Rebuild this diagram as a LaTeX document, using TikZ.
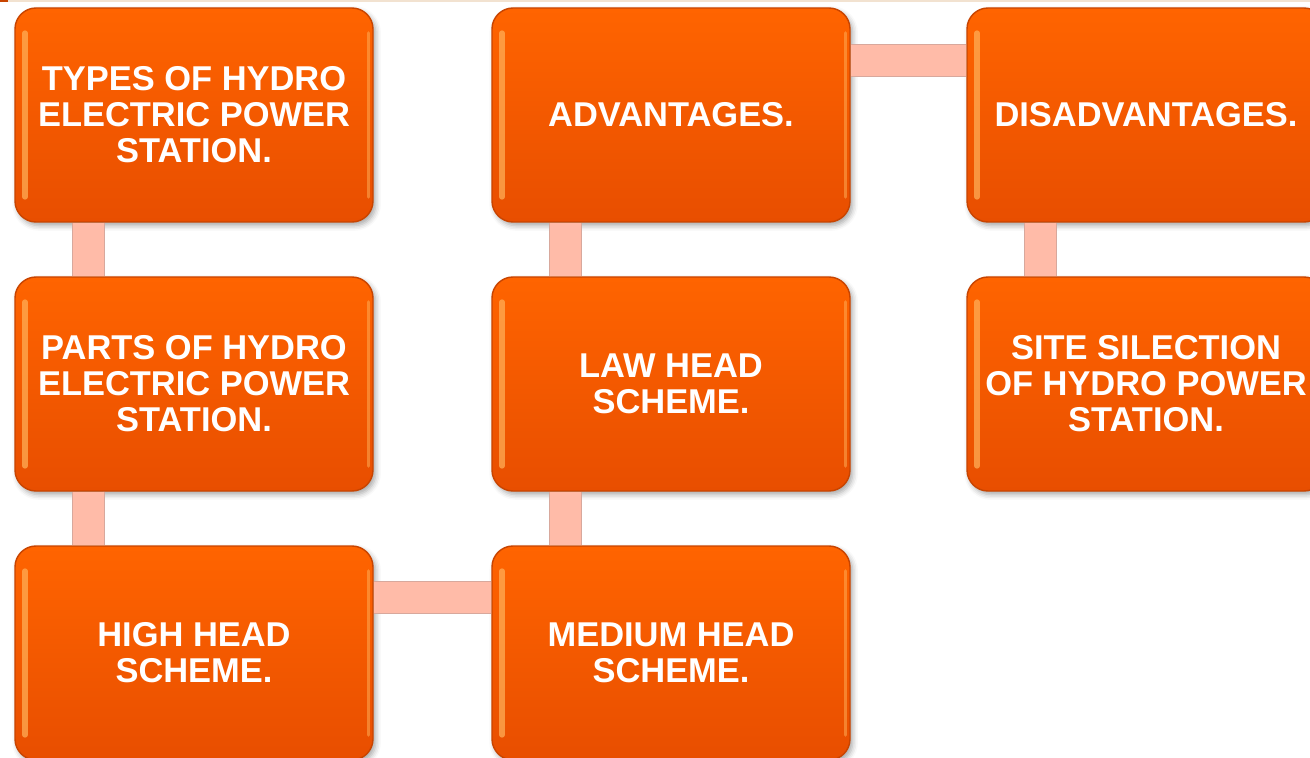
\documentclass[tikz,border=0pt]{standalone}
\usepackage{fontspec}
\setmainfont{Liberation Sans}
\usepackage{tikz}
\usetikzlibrary{shadows.blur}
\definecolor{BoxTop}{HTML}{FF6400}
\definecolor{BoxBottom}{HTML}{E84E00}
\definecolor{BoxEdge}{HTML}{C84400}
\definecolor{BoxGlow}{HTML}{FFB35C}
\definecolor{LinkPink}{HTML}{FFBBA8}
\definecolor{LinkEdge}{HTML}{D8A89C}
\definecolor{TopRule}{HTML}{F2E2D0}

\tikzset{
  topicbox/.style={
    draw=BoxEdge,
    line width=0.8pt,
    top color=BoxTop,
    bottom color=BoxBottom,
    rounded corners=0.42cm,
    minimum width=7.16cm,
    minimum height=4.28cm,
    align=center,
    text=white,
    font=\fontsize{19.6}{20.5}\selectfont\bfseries,
    blur shadow={shadow xshift=1.5pt, shadow yshift=-2pt,
                 shadow blur radius=3pt, shadow opacity=35},
    path picture={
      \draw[BoxGlow, line width=3pt, line cap=round, opacity=0.7]
        ([xshift=0.2cm,yshift=-0.5cm]path picture bounding box.north west)
        -- ([xshift=0.2cm,yshift=0.5cm]path picture bounding box.south west);
      \draw[BoxGlow, line width=2pt, line cap=round, opacity=0.5]
        ([xshift=-0.09cm,yshift=-0.5cm]path picture bounding box.north east)
        -- ([xshift=-0.09cm,yshift=0.5cm]path picture bounding box.south east);
    }
  },
  link/.style={
    draw=LinkEdge,
    line width=0.02cm,
    double=LinkPink,
    double distance=0.62cm
  }
}

\begin{document}
\begin{tikzpicture}
\useasboundingbox (0,0) rectangle (26.2,-15.16);
\clip (0,0) rectangle (26.2,-15.16);

% thin rule along the top edge
\fill[TopRule] (0,0) rectangle (26.2,-0.05);
\fill[BoxEdge] (0,0) rectangle (0.16,-0.05);

% first column
\node[topicbox] (types) at (3.88,-2.30) {TYPES OF HYDRO\\ELECTRIC POWER\\STATION.};
\node[topicbox] (parts) at (3.88,-7.68) {PARTS OF HYDRO\\ELECTRIC POWER\\STATION.};
\node[topicbox] (high) at (3.88,-13.06) {HIGH HEAD\\SCHEME.};

% second column
\node[topicbox] (adv) at (13.42,-2.30) {ADVANTAGES.};
\node[topicbox] (law) at (13.42,-7.68) {LAW HEAD\\SCHEME.};
\node[topicbox] (medium) at (13.42,-13.06) {MEDIUM HEAD\\SCHEME.};

% third column
\node[topicbox] (disadv) at (22.92,-2.30) {DISADVANTAGES.};
\node[topicbox] (site) at (22.92,-7.68) {SITE SILECTION\\OF HYDRO POWER\\STATION.};

% connecting bars
\draw[link] ([xshift=1.48cm]types.south west) -- ([xshift=1.48cm]parts.north west);
\draw[link] ([xshift=1.48cm]parts.south west) -- ([xshift=1.48cm]high.north west);
\draw[link] ([yshift=-1.04cm]high.north east) -- ([yshift=-1.04cm]medium.north west);
\draw[link] ([xshift=1.48cm]medium.north west) -- ([xshift=1.48cm]law.south west);
\draw[link] ([xshift=1.48cm]law.north west) -- ([xshift=1.48cm]adv.south west);
\draw[link] ([yshift=-1.06cm]adv.north east) -- ([yshift=-1.06cm]disadv.north west);
\draw[link] ([xshift=1.48cm]disadv.south west) -- ([xshift=1.48cm]site.north west);
\end{tikzpicture}
\end{document}
